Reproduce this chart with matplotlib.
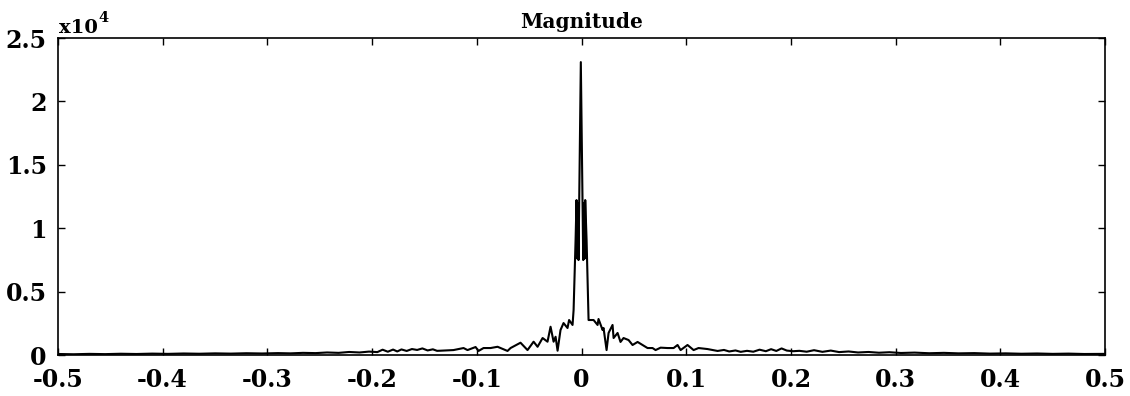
import numpy as np
import matplotlib
matplotlib.use("Agg")
import matplotlib.pyplot as plt

# magnitude spectrum (frequency, magnitude)
freq = [
    -0.500, -0.485, -0.470, -0.455, -0.440, -0.425, -0.410, -0.395, -0.380, -0.365,
    -0.350, -0.335, -0.320, -0.305, -0.290, -0.278, -0.266, -0.254, -0.243, -0.232,
    -0.222, -0.212, -0.203, -0.195, -0.190, -0.185, -0.180, -0.176, -0.172, -0.167,
    -0.162, -0.157, -0.152, -0.147, -0.142, -0.138,
    -0.1347, -0.1223, -0.1127, -0.1089, -0.1012, -0.0984, -0.0936, -0.0869, -0.0802, -0.0707,
    -0.0678, -0.0583, -0.0516, -0.0458, -0.0420, -0.0372, -0.0325, -0.0296, -0.0267, -0.0248,
    -0.0229, -0.0201, -0.0172, -0.0134, -0.0119, -0.0086, -0.0076,
    -0.0057, -0.0048, -0.0040, -0.0036, -0.0029, -0.0007, 0.0016, 0.0024, 0.0029, 0.0035,
    0.0048, 0.0067,
    0.0115, 0.0153, 0.0162, 0.0201, 0.0210, 0.0239, 0.0258, 0.0296, 0.0306, 0.0344,
    0.0372, 0.0401, 0.0449, 0.0487, 0.0535, 0.0583, 0.0630, 0.0678, 0.0707, 0.0755,
    0.0821, 0.0879, 0.0917, 0.0946, 0.1012, 0.1070, 0.1117, 0.1203, 0.1299,
    0.136, 0.141, 0.147, 0.152, 0.158, 0.164, 0.170, 0.176, 0.181, 0.186,
    0.191, 0.196, 0.202, 0.208, 0.215, 0.222, 0.230, 0.238, 0.246, 0.255,
    0.264, 0.274, 0.284, 0.294, 0.305, 0.318, 0.332, 0.346, 0.360, 0.375,
    0.390, 0.405, 0.420, 0.435, 0.450, 0.465, 0.480, 0.500,
]
mag = [
    80, 60, 90, 70, 100, 80, 110, 90, 120, 100,
    130, 110, 140, 120, 150, 130, 170, 150, 200, 170,
    240, 200, 270, 230, 420, 260, 430, 280, 440, 320,
    470, 400, 520, 360, 450, 330,
    340, 390, 550, 390, 630, 320, 550, 550, 650, 320,
    550, 970, 390, 1050, 650, 1340, 1050, 2230, 1050, 1440,
    340, 1970, 2520, 2130, 2760, 2370, 3550,
    9070, 12220, 7600, 12000, 7490, 23100, 7490, 12000, 7600, 12220,
    9070, 2760,
    2760, 2370, 2840, 1970, 2130, 390, 1740, 2370, 1340, 1740,
    1030, 1340, 1180, 790, 1030, 790, 550, 550, 390, 580,
    550, 550, 790, 390, 790, 390, 550, 470, 320,
    400, 280, 360, 250, 330, 260, 420, 300, 460, 320,
    520, 350, 300, 330, 260, 380, 250, 350, 230, 280,
    200, 240, 180, 220, 160, 190, 140, 170, 130, 150,
    110, 130, 100, 120, 90, 110, 80, 90,
]

x_ticks = [-0.5, -0.4, -0.3, -0.2, -0.1, 0, 0.1, 0.2, 0.3, 0.4, 0.5]
x_labels = ["-0.5", "-0.4", "-0.3", "-0.2", "-0.1", "0", "0.1", "0.2", "0.3", "0.4", "0.5"]
y_ticks = [0, 5000, 10000, 15000, 20000, 25000]
y_labels = ["0", "0.5", "1", "1.5", "2", "2.5"]

plt.rcParams["font.family"] = ["DejaVu Serif"]
plt.rcParams["font.weight"] = "bold"

fig = plt.figure(figsize=(11.3, 3.96), dpi=100)
ax = fig.add_axes([0.0513, 0.1035, 0.9267, 0.8005])

ax.plot(freq, mag, color="black", linewidth=1.5)
ax.set_xlim(-0.5, 0.5)
ax.set_ylim(0, 25000)

ax.set_xticks(x_ticks)
ax.set_xticklabels(x_labels)
ax.set_yticks(y_ticks)
ax.set_yticklabels(y_labels)
ax.tick_params(direction="in", length=5, width=1, top=True, right=True,
               labelsize=17)
ax.tick_params(axis="x", pad=9)
ax.tick_params(axis="y", pad=8)
for s in ax.spines.values():
    s.set_linewidth(1.2)

ax.set_title("Magnitude", fontsize=14.5, fontweight="bold", pad=7)
fig.text(0.052, 0.917, "x10", fontsize=14, fontweight="bold", ha="left", va="baseline")
fig.text(0.0875, 0.945, "4", fontsize=10.5, fontweight="bold", ha="left", va="baseline")

fig.savefig("out.png", dpi=100)
